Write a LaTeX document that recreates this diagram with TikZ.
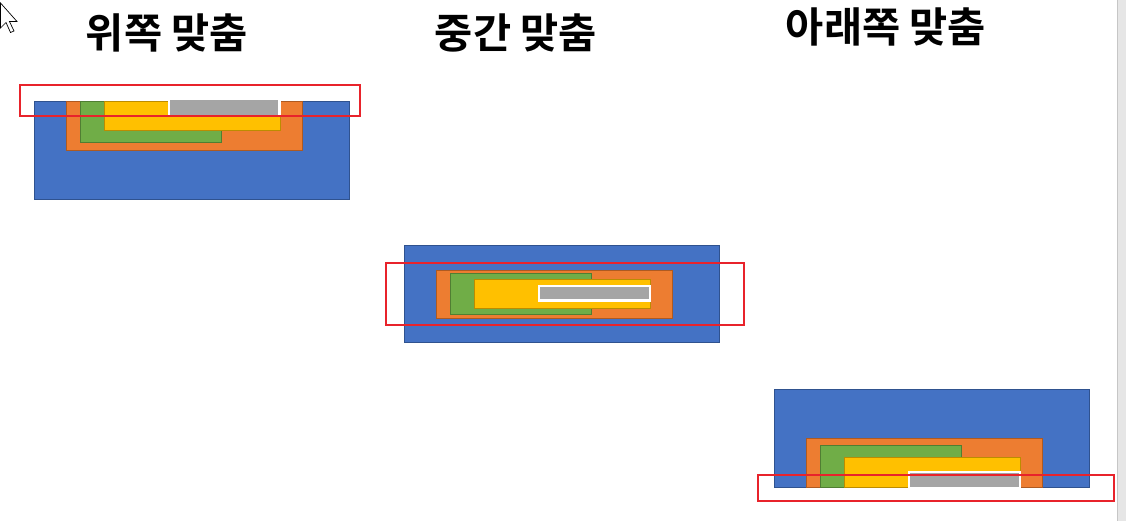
\documentclass[tikz,border=0pt]{standalone}
\usepackage{fontspec}
\newfontfamily\kofont{Noto Sans CJK KR Bold}
\definecolor{oblue}{HTML}{4472C4}
\definecolor{obluedk}{HTML}{2F528F}
\definecolor{oorange}{HTML}{ED7D31}
\definecolor{oorangedk}{HTML}{AE5A21}
\definecolor{ogreen}{HTML}{70AD47}
\definecolor{ogreendk}{HTML}{507E32}
\definecolor{oyellow}{HTML}{FFC000}
\definecolor{oyellowdk}{HTML}{BC8C00}
\definecolor{ogray}{HTML}{A5A5A5}
\definecolor{ored}{HTML}{E8232B}
\definecolor{sbar}{HTML}{E6E6E6}
\definecolor{sbarline}{HTML}{C6C6C6}
\begin{document}
\begin{tikzpicture}[x=1pt,y=-1pt,
  bluebox/.style={fill=oblue,draw=obluedk,line width=0.9pt},
  orangebox/.style={fill=oorange,draw=oorangedk,line width=0.9pt},
  greenbox/.style={fill=ogreen,draw=ogreendk,line width=0.9pt},
  yellowbox/.style={fill=oyellow,draw=oyellowdk,line width=0.9pt},
  graybox/.style={fill=ogray,draw=white,line width=2.4pt},
  redbox/.style={draw=ored,line width=2pt},
  title/.style={font=\kofont\fontsize{41.5}{44}\selectfont,inner sep=0pt,anchor=center}]
\useasboundingbox (0,0) rectangle (1126,521);
\fill[white] (0,0) rectangle (1126,521);
% scrollbar
\fill[sbar] (1117,0) rectangle (1126,521);
\draw[sbarline,line width=0.8pt] (1117,0) -- (1117,521);
% cursor
\draw[fill=white,draw=black,line width=0.7pt,line join=miter]
  (0.5,3) -- (0.5,28) -- (6,22.5) -- (10.5,32.5) -- (14,31) -- (9.5,21.5) -- (17,21.5) -- cycle;
% titles
\node[title] (t1) at (167,32.5) {위쪽 맞춤};
\node[title] (t2) at (516,32.5) {중간 맞춤};
\node[title] (t3) at (886,26.5) {아래쪽 맞춤};
% top alignment
\draw[bluebox] (34,101) rectangle (349,199);
\draw[orangebox] (66,101) rectangle (302,150);
\draw[greenbox] (80,101) rectangle (221,142);
\draw[yellowbox] (104,101) rectangle (280,130);
\draw[graybox] (169,99) rectangle (279.5,116);
\fill[white] (160,96) rectangle (290,100.5);
\draw[redbox] (20,85) rectangle (360,116);
% middle alignment
\draw[bluebox] (404,245) rectangle (719,342);
\draw[orangebox] (436,270) rectangle (672,318);
\draw[greenbox] (450,273) rectangle (591,314);
\draw[yellowbox] (474,279) rectangle (650,308);
\draw[graybox] (539,286) rectangle (650,300.5);
\draw[redbox] (386,263) rectangle (744,325);
% bottom alignment
\draw[bluebox] (774,389) rectangle (1089,487);
\draw[orangebox] (806,438) rectangle (1042,487);
\draw[greenbox] (820,445) rectangle (961,487);
\draw[yellowbox] (844,457) rectangle (1020,487);
\draw[graybox] (909,472) rectangle (1020,488);
\fill[white] (900,487.6) rectangle (1030,492);
\draw[redbox] (758,475) rectangle (1114,501);
\end{tikzpicture}
\end{document}
